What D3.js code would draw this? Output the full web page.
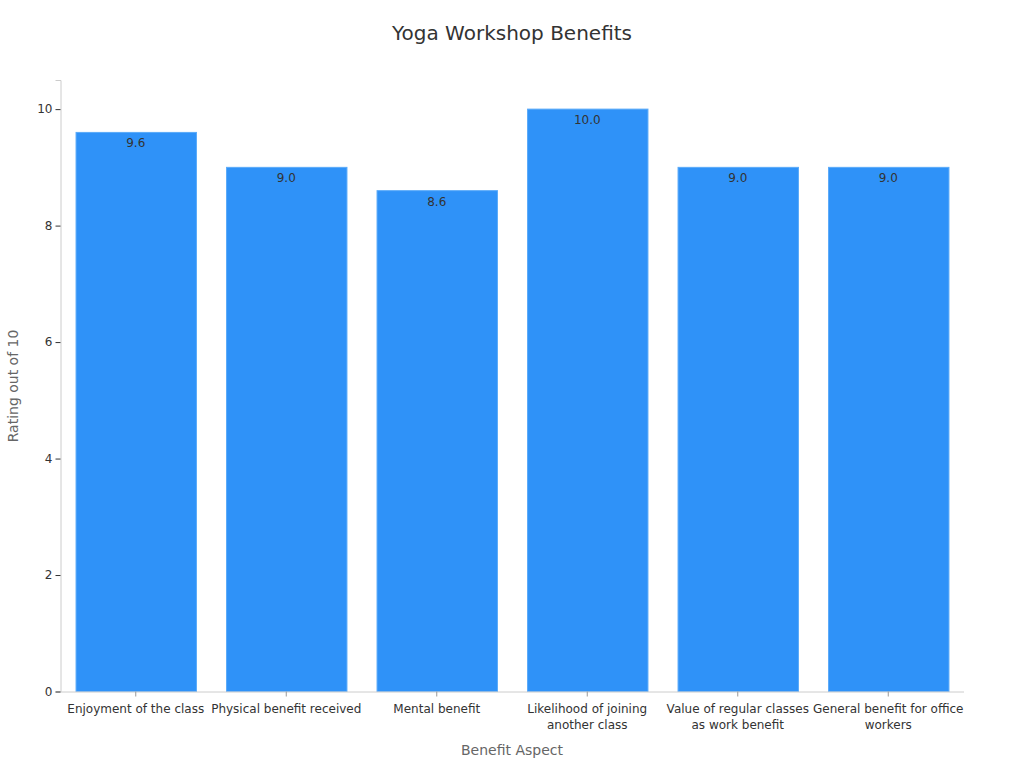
<!DOCTYPE html>
<html><head><meta charset="utf-8">
<script src="https://cdn.jsdelivr.net/npm/d3@7"></script>
<style>body{margin:0;background:#fff;font-family:"DejaVu Sans",sans-serif}</style>
</head><body><svg id="c" width="1024" height="768"></svg>
<script>
const categories = ["Enjoyment of the class","Physical benefit received","Mental benefit","Likelihood of joining another class","Value of regular classes as work benefit","General benefit for office workers"];
const categoryLines = [["Enjoyment of the class"],["Physical benefit received"],["Mental benefit"],["Likelihood of joining","another class"],["Value of regular classes","as work benefit"],["General benefit for office","workers"]];
const ratings = [9.6, 9.0, 8.6, 10.0, 9.0, 9.0];
const yTicks = [0, 2, 4, 6, 8, 10];

const svg = d3.select("#c");
const m = {l:60.5, r:60.5, t:80, b:76.5};
const W = 1024, H = 768;
const x = d3.scaleBand().domain(categories).range([m.l, W-m.r]).paddingInner(0.2).paddingOuter(0.1);
const y = d3.scaleLinear().domain([0, 10.5]).range([H-m.b, m.t]);

svg.append("text").attr("x",512).attr("y",40).attr("text-anchor","middle")
  .attr("font-size",20).attr("fill","#333").text("Yoga Workshop Benefits");

svg.selectAll("rect.bar").data(ratings).join("rect").attr("class","bar")
  .attr("x",(d,i)=>x(categories[i])+0.5).attr("width",x.bandwidth())
  .attr("y",d=>y(d)).attr("height",d=>y(0)-y(d))
  .attr("fill","#2f92f8").attr("stroke","#5aaaf9").attr("stroke-width",1);

svg.selectAll("text.val").data(ratings).join("text").attr("class","val")
  .attr("x",(d,i)=>x(categories[i])+x.bandwidth()/2).attr("y",d=>y(d)+15)
  .attr("text-anchor","middle").attr("font-size",12).attr("fill","#333")
  .text(d=>d.toFixed(1));

const ya = svg.append("g").attr("transform",`translate(${m.l},0)`)
  .call(d3.axisLeft(y).tickValues(yTicks).tickSize(5).tickPadding(3));
ya.select(".domain").attr("stroke","#ccc");
ya.selectAll(".tick line").attr("stroke","#333");
ya.selectAll(".tick text").attr("font-size",12).attr("fill","#333").attr("font-family","DejaVu Sans");

const xa = svg.append("g").attr("transform",`translate(0,${H-m.b})`)
  .call(d3.axisBottom(x).tickSize(5).tickSizeOuter(0).tickFormat(""));
xa.select(".domain").attr("stroke","#ccc");
xa.selectAll(".tick line").attr("stroke","#999");
xa.selectAll(".tick").each(function(d,i){
  const t = d3.select(this).append("text").attr("fill","#333").attr("font-size",12)
    .attr("font-family","DejaVu Sans").attr("text-anchor","middle").attr("y",21);
  categoryLines[i].forEach((ln,j)=>t.append("tspan").attr("x",0).attr("dy", j===0?0:16).text(ln));
});

svg.append("text").attr("x",512).attr("y",755).attr("text-anchor","middle")
  .attr("font-size",14).attr("fill","#666").text("Benefit Aspect");
svg.append("text").attr("transform","translate(18,386) rotate(-90)").attr("text-anchor","middle")
  .attr("font-size",14).attr("fill","#666").text("Rating out of 10");
</script></body></html>
